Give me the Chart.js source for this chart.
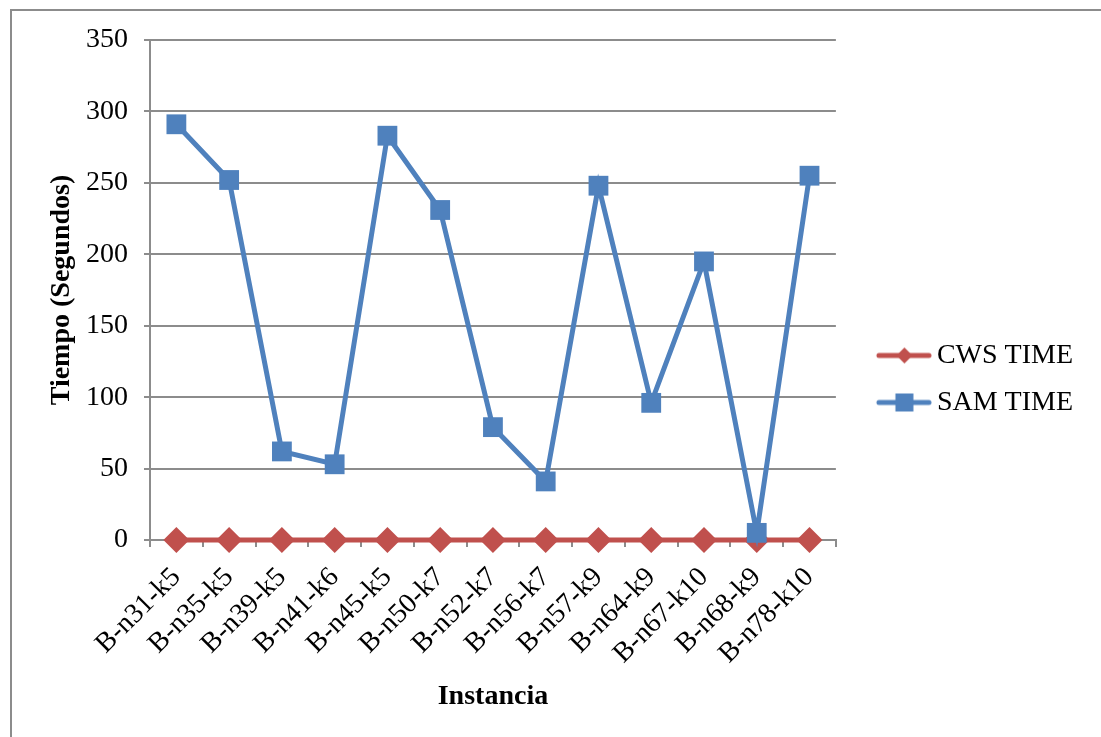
<!DOCTYPE html>
<html>
<head>
<meta charset="utf-8">
<script src="https://cdn.jsdelivr.net/npm/chart.js@4.4.1/dist/chart.umd.min.js"></script>
<style>
  html, body { margin: 0; padding: 0; background: #fff; overflow: hidden; }
  #frame { position: absolute; left: 10px; top: 9px; width: 1300px; height: 1000px; border: 2px solid #8c8c8c; }
  #wrap { position: absolute; left: 0; top: 0; width: 1101px; height: 737px; }
</style>
</head>
<body>
<div id="frame"></div>
<div id="wrap"><canvas id="timeChart"></canvas></div>
<script>
// instancias y tiempos (segundos)
const instancias = ['B-n31-k5', 'B-n35-k5', 'B-n39-k5', 'B-n41-k6', 'B-n45-k5', 'B-n50-k7', 'B-n52-k7',
    'B-n56-k7', 'B-n57-k9', 'B-n64-k9', 'B-n67-k10', 'B-n68-k9', 'B-n78-k10'];
const cwsTime = [0, 0, 0, 0, 0, 0, 0, 0, 0, 0, 0, 0, 0];
const samTime = [291, 252, 62, 53, 283, 231, 79, 41, 248, 96, 195, 5, 255];
const yTicks = [0, 50, 100, 150, 200, 250, 300, 350];

const RED = '#C0504D';
const BLUE = '#4F81BD';
const GRID = '#8c8c8c';

Chart.defaults.font.family = "'Liberation Serif', 'Times New Roman', serif";
Chart.defaults.font.size = 28;
Chart.defaults.color = '#000';

// Legend icon: line with marker in the middle
function legendIcon(color, marker) {
    const c = document.createElement('canvas');
    c.width = 86;
    c.height = 26;
    const g = c.getContext('2d');
    g.strokeStyle = color;
    g.fillStyle = color;
    g.lineWidth = 5;
    g.lineCap = 'round';
    g.beginPath();
    g.moveTo(33, 13);
    g.lineTo(83, 13);
    g.stroke();
    g.beginPath();
    if (marker === 'diamond') {
        g.moveTo(58.5 - 8, 13);
        g.lineTo(58.5, 13 - 8);
        g.lineTo(58.5 + 8, 13);
        g.lineTo(58.5, 13 + 8);
        g.closePath();
    } else {
        g.rect(58.5 - 9, 13 - 9, 18, 18);
    }
    g.fill();
    return c;
}

const ctx = document.getElementById('timeChart').getContext('2d');
new Chart(ctx, {
    type: 'line',
    data: {
        labels: instancias,
        datasets: [{
            label: 'CWS TIME',
            data: cwsTime,
            borderColor: RED,
            backgroundColor: RED,
            borderWidth: 5,
            pointStyle: 'rectRot',
            pointRadius: 13,
            pointBorderWidth: 0,
            pointBackgroundColor: RED,
            tension: 0,
            clip: false,
            order: 2
        }, {
            label: 'SAM TIME',
            data: samTime,
            borderColor: BLUE,
            backgroundColor: BLUE,
            borderWidth: 5,
            pointStyle: 'rect',
            pointRadius: 14,
            pointBorderWidth: 0,
            pointBackgroundColor: BLUE,
            tension: 0,
            clip: false,
            order: 1
        }]
    },
    options: {
        responsive: true,
        maintainAspectRatio: false,
        animation: false,
        events: [],
        layout: {
            padding: { left: 41, top: 40, right: 18, bottom: 19 }
        },
        plugins: {
            tooltip: { enabled: false },
            legend: {
                display: true,
                position: 'right',
                align: 'center',
                labels: {
                    usePointStyle: true,
                    pointStyleWidth: 68,
                    padding: 19,
                    color: '#000',
                    font: { size: 28 },
                    generateLabels: function (chart) {
                        return [
                            { text: 'CWS TIME', pointStyle: legendIcon(RED, 'diamond'), fillStyle: RED, strokeStyle: RED, lineWidth: 0, hidden: false, datasetIndex: 0, fontColor: '#000' },
                            { text: 'SAM TIME', pointStyle: legendIcon(BLUE, 'square'), fillStyle: BLUE, strokeStyle: BLUE, lineWidth: 0, hidden: false, datasetIndex: 1, fontColor: '#000' }
                        ];
                    }
                }
            }
        },
        scales: {
            x: {
                offset: true,
                afterFit: function (scale) { scale.height = 178; },
                border: { display: true, color: GRID, width: 2 },
                grid: {
                    offset: true,
                    drawOnChartArea: false,
                    drawTicks: true,
                    tickLength: 7,
                    color: GRID,
                    lineWidth: 2
                },
                ticks: {
                    autoSkip: false,
                    minRotation: 45,
                    maxRotation: 45,
                    padding: 14,
                    color: '#000',
                    font: { size: 28 }
                },
                title: {
                    display: true,
                    text: 'Instancia',
                    color: '#000',
                    font: { size: 28, weight: 'bold' },
                    padding: { top: 4, bottom: 4 }
                }
            },
            y: {
                min: 0,
                max: 350,
                afterFit: function (scale) { scale.width = 109; },
                afterBuildTicks: function (scale) {
                    scale.ticks = yTicks.map(v => ({ value: v }));
                },
                border: { display: true, color: GRID, width: 2 },
                grid: {
                    color: GRID,
                    lineWidth: 2,
                    tickLength: 6
                },
                ticks: {
                    padding: 16,
                    color: '#000',
                    font: { size: 28 }
                },
                title: {
                    display: true,
                    text: 'Tiempo (Segundos)',
                    color: '#000',
                    font: { size: 28, weight: 'bold' },
                    padding: { top: 4, bottom: 4 }
                }
            }
        }
    }
});
</script>
</body>
</html>
